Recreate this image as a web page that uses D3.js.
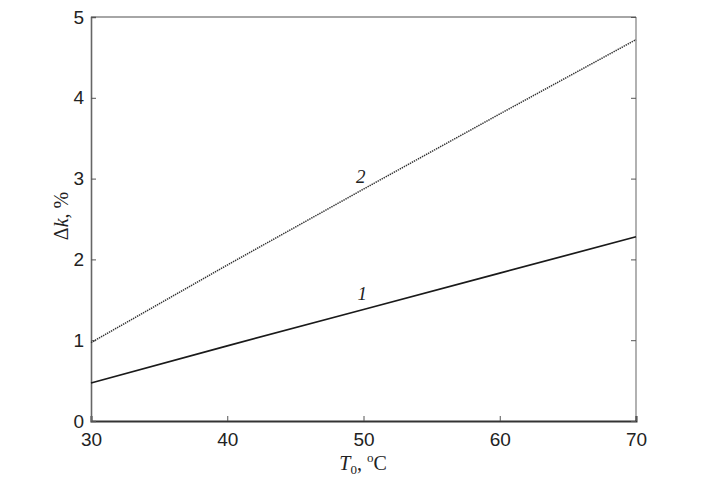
<!DOCTYPE html>
<html><head><meta charset="utf-8">
<script src="https://cdn.jsdelivr.net/npm/d3@7"></script>
<style>body{margin:0;background:#fff}svg{display:block}</style>
</head><body>
<script>
const temps = [30, 40, 50, 60, 70];
const curve1 = [0.47, 0.93, 1.38, 1.83, 2.28];
const curve2 = [0.97, 1.93, 2.87, 3.80, 4.72];
const xTicks = [30, 40, 50, 60, 70];
const yTicks = [0, 1, 2, 3, 4, 5];
const curveLabels = [{name: "1", x: 49.9, y: 1.50}, {name: "2", x: 49.8, y: 2.95}];

const W = 702, H = 484;
const m = {left: 91, right: 66, top: 17, bottom: 63};
const svg = d3.select("body").append("svg").attr("width", W).attr("height", H);
const x = d3.scaleLinear().domain([30, 70]).range([m.left, W - m.right]);
const y = d3.scaleLinear().domain([0, 5]).range([H - m.bottom, m.top]);

const tickFont = "'Liberation Sans', Arial, sans-serif";
const serif = "'Liberation Serif', 'Times New Roman', serif";

// frame
const fr = svg.append("g");
fr.append("line").attr("x1", x(30)).attr("x2", x(70)).attr("y1", y(5)).attr("y2", y(5)).attr("stroke", "#888").attr("stroke-width", 1.3);
fr.append("line").attr("x1", x(70)).attr("x2", x(70)).attr("y1", y(0)).attr("y2", y(5)).attr("stroke", "#888").attr("stroke-width", 1.3);

// axes
const xAx = svg.append("g").attr("transform", `translate(0,${y(0)})`)
  .call(d3.axisBottom(x).tickValues(xTicks).tickSize(-5).tickPadding(12).tickFormat(d3.format("d")));
const yAx = svg.append("g").attr("transform", `translate(${x(30)},0)`)
  .call(d3.axisLeft(y).tickValues(yTicks).tickSize(-5).tickPadding(7).tickFormat(d3.format("d")));
const yAxR = svg.append("g").attr("transform", `translate(${x(70)},0)`)
  .call(d3.axisRight(y).tickValues(yTicks).tickSize(-5).tickFormat(""));
xAx.select(".domain").attr("stroke", "#333").attr("stroke-width", 2);
yAx.select(".domain").attr("stroke", "#666").attr("stroke-width", 1.6);
yAxR.select(".domain").remove();
[xAx, yAx, yAxR].forEach(g => {
  g.selectAll(".tick line").attr("stroke", "#555").attr("stroke-width", 1);
  g.selectAll("text").attr("font-family", tickFont).attr("font-size", 19).attr("fill", "#222");
});
xAx.selectAll(".tick text").attr("dy", "0.71em");

// curves
const line = d3.line().x((d, i) => x(temps[i])).y(d => y(d));
svg.append("path").datum(curve1).attr("d", line).attr("fill", "none").attr("stroke", "#1a1a1a").attr("stroke-width", 1.7);
svg.append("path").datum(curve2).attr("d", line).attr("fill", "none").attr("stroke", "#333").attr("stroke-width", 1.5).attr("stroke-dasharray", "1.4,0.9");

// curve labels
svg.selectAll(".cl").data(curveLabels).enter().append("text")
  .attr("x", d => x(d.x)).attr("y", d => y(d.y))
  .attr("text-anchor", "middle").attr("font-family", serif).attr("font-style", "italic")
  .attr("font-size", 19).attr("fill", "#222").text(d => d.name);

// x label
const xl = svg.append("text").attr("x", 363).attr("y", 470).attr("text-anchor", "middle")
  .attr("font-family", serif).attr("font-size", 20).attr("fill", "#222");
xl.append("tspan").attr("font-style", "italic").text("T");
xl.append("tspan").attr("font-size", 13).attr("dy", 4).text("0");
xl.append("tspan").attr("dy", -4).text(", ");
xl.append("tspan").attr("font-size", 13).attr("dy", -8).text("o");
xl.append("tspan").attr("dy", 8).text("C");

// y label
const yl = svg.append("text").attr("transform", `translate(68,216) rotate(-90)`).attr("text-anchor", "middle")
  .attr("font-family", serif).attr("font-size", 20).attr("fill", "#222");
yl.append("tspan").text("Δ");
yl.append("tspan").attr("font-style", "italic").text("k");
yl.append("tspan").text(", %");
</script>
</body></html>
